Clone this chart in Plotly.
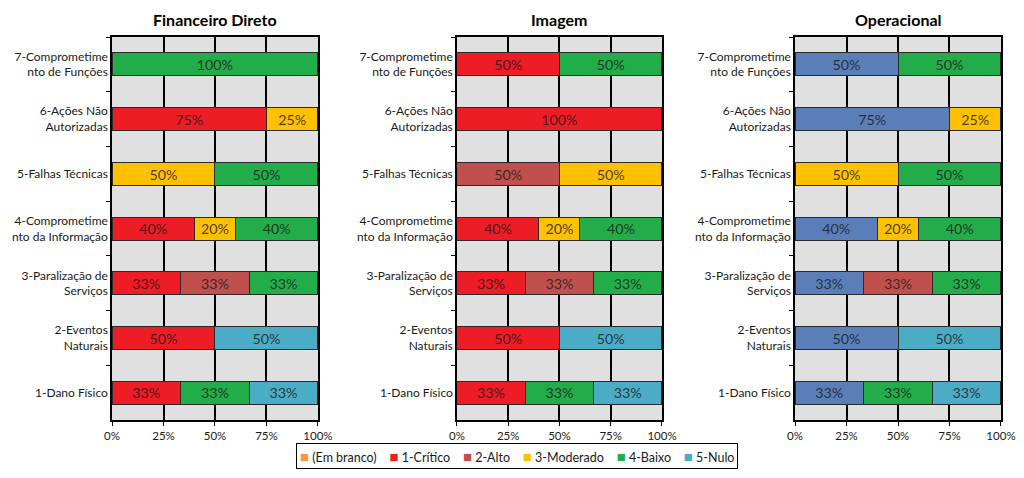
import plotly.graph_objects as go

categories = ["1-Dano Físico", "2-Eventos<br>Naturais", "3-Paralização de<br>Serviços",
              "4-Comprometime<br>nto da Informação", "5-Falhas Técnicas",
              "6-Ações Não<br>Autorizadas", "7-Comprometime<br>nto de Funções"]
series_names = ["(Em branco)", "1-Crítico", "2-Alto", "3-Moderado", "4-Baixo", "5-Nulo"]
panel_titles = ["Financeiro Direto", "Imagem", "Operacional"]
x_ticks = [0, 25, 50, 75, 100]
x_tick_labels = ["0%", "25%", "50%", "75%", "100%"]

# values per category (1..7), percent
fin_em_branco = [0, 0, 0, 0, 0, 0, 0]
fin_critico = [33.33, 50, 33.33, 40, 0, 75, 0]
fin_alto = [0, 0, 33.33, 0, 0, 0, 0]
fin_moderado = [0, 0, 0, 20, 50, 25, 0]
fin_baixo = [33.33, 0, 33.34, 40, 50, 0, 100]
fin_nulo = [33.34, 50, 0, 0, 0, 0, 0]

img_em_branco = [0, 0, 0, 0, 0, 0, 0]
img_critico = [33.33, 50, 33.33, 40, 0, 100, 50]
img_alto = [0, 0, 33.33, 0, 50, 0, 0]
img_moderado = [0, 0, 0, 20, 50, 0, 0]
img_baixo = [33.33, 0, 33.34, 40, 0, 0, 50]
img_nulo = [33.34, 50, 0, 0, 0, 0, 0]

op_em_branco = [0, 0, 0, 0, 0, 0, 0]
op_critico = [33.33, 50, 33.33, 40, 0, 75, 50]
op_alto = [0, 0, 33.33, 0, 0, 0, 0]
op_moderado = [0, 0, 0, 20, 50, 25, 0]
op_baixo = [33.33, 0, 33.34, 40, 50, 0, 50]
op_nulo = [33.34, 50, 0, 0, 0, 0, 0]

panels = [
    [fin_em_branco, fin_critico, fin_alto, fin_moderado, fin_baixo, fin_nulo],
    [img_em_branco, img_critico, img_alto, img_moderado, img_baixo, img_nulo],
    [op_em_branco, op_critico, op_alto, op_moderado, op_baixo, op_nulo],
]

colors = ["#F79646", "#EE1C25", "#C0504D", "#FFC000", "#22AD4A", "#4BACC6"]
op_colors = ["#F79646", "#5A7EB8", "#C0504D", "#FFC000", "#22AD4A", "#4BACC6"]

FONT = "Lato, 'Open Sans', sans-serif"
# page body has an 8px margin, so the figure is drawn smaller to fit the window
W, H = 1008, 462
domains_x = [[0.1032, 0.3075], [0.4454, 0.6488], [0.7808, 0.9851]]
domain_y = [0.1082, 0.9372]

fig = go.Figure()
for p, data in enumerate(panels):
    xa = "x" if p == 0 else f"x{p+1}"
    ya = "y" if p == 0 else f"y{p+1}"
    cols = op_colors if p == 2 else colors
    for s, name in enumerate(series_names):
        vals = data[s]
        if s == 0 and sum(vals) == 0:
            continue
        xs = [v if v > 0 else None for v in vals]
        texts = [f"{round(v)}%" if v > 0 else "" for v in vals]
        fig.add_trace(go.Bar(
            x=xs, y=categories, orientation="h", name=name,
            xaxis=xa, yaxis=ya, width=0.42,
            marker=dict(color=cols[s], line=dict(color="#2a2a2a", width=1)),
            text=texts, textposition="inside", insidetextanchor="middle",
            textfont=dict(family=FONT, size=16, color="rgba(25,25,25,0.8)"),
            showlegend=False, hoverinfo="skip",
        ))

# compact legend drawn as a bordered text box
legend_text = "&nbsp;&nbsp;&nbsp;&nbsp;".join(
    f"<span style='color:{c};font-size:15px'>■</span> {n}" for n, c in zip(series_names, colors)
)

layout = dict(
    barmode="stack",
    width=W, height=H,
    margin=dict(l=0, r=0, t=0, b=0, autoexpand=False),
    paper_bgcolor="white",
    font=dict(family=FONT, size=12, color="#1a1a1a"),
    uniformtext=dict(mode="show", minsize=8),
    showlegend=False,
    annotations=[dict(
        text=legend_text, x=0.505, y=0.002, xref="paper", yref="paper",
        xanchor="center", yanchor="bottom", showarrow=False,
        bordercolor="#000000", borderwidth=1, borderpad=3, bgcolor="white",
        font=dict(family=FONT, size=12.5, color="#1a1a1a"),
    )],
)
for p in range(3):
    suffix = "" if p == 0 else str(p + 1)
    layout[f"xaxis{suffix}"] = dict(
        domain=domains_x[p], anchor=f"y{suffix}", range=[0, 100],
        tickvals=x_ticks, ticktext=x_tick_labels, automargin=False,
        showgrid=True, gridcolor="#000000", gridwidth=1.5,
        showline=True, linecolor="#000000", linewidth=1.5, mirror=True,
        ticks="outside", ticklen=4, tickcolor="#000000",
        tickfont=dict(size=11.5), zeroline=False, fixedrange=True,
    )
    layout[f"yaxis{suffix}"] = dict(
        domain=domain_y, anchor=f"x{suffix}", type="category", automargin=False,
        categoryorder="array", categoryarray=categories,
        showline=True, linecolor="#000000", linewidth=1.5, mirror=True,
        ticks="outside", ticklen=4, tickcolor="#000000", tickson="boundaries",
        showgrid=False, tickfont=dict(size=12), fixedrange=True,
        range=[-0.5, 6.5],
    )
    cx = (domains_x[p][0] + domains_x[p][1]) / 2
    layout["annotations"].append(dict(
        text=f"<b>{panel_titles[p]}</b>", x=cx, y=1.0, xref="paper", yref="paper",
        xanchor="center", yanchor="top", showarrow=False,
        font=dict(family=FONT, size=16, color="#000000"),
    ))
fig.update_layout(**layout)
fig.update_layout(plot_bgcolor="#E0E0E0")

fig.write_html("out.html")
